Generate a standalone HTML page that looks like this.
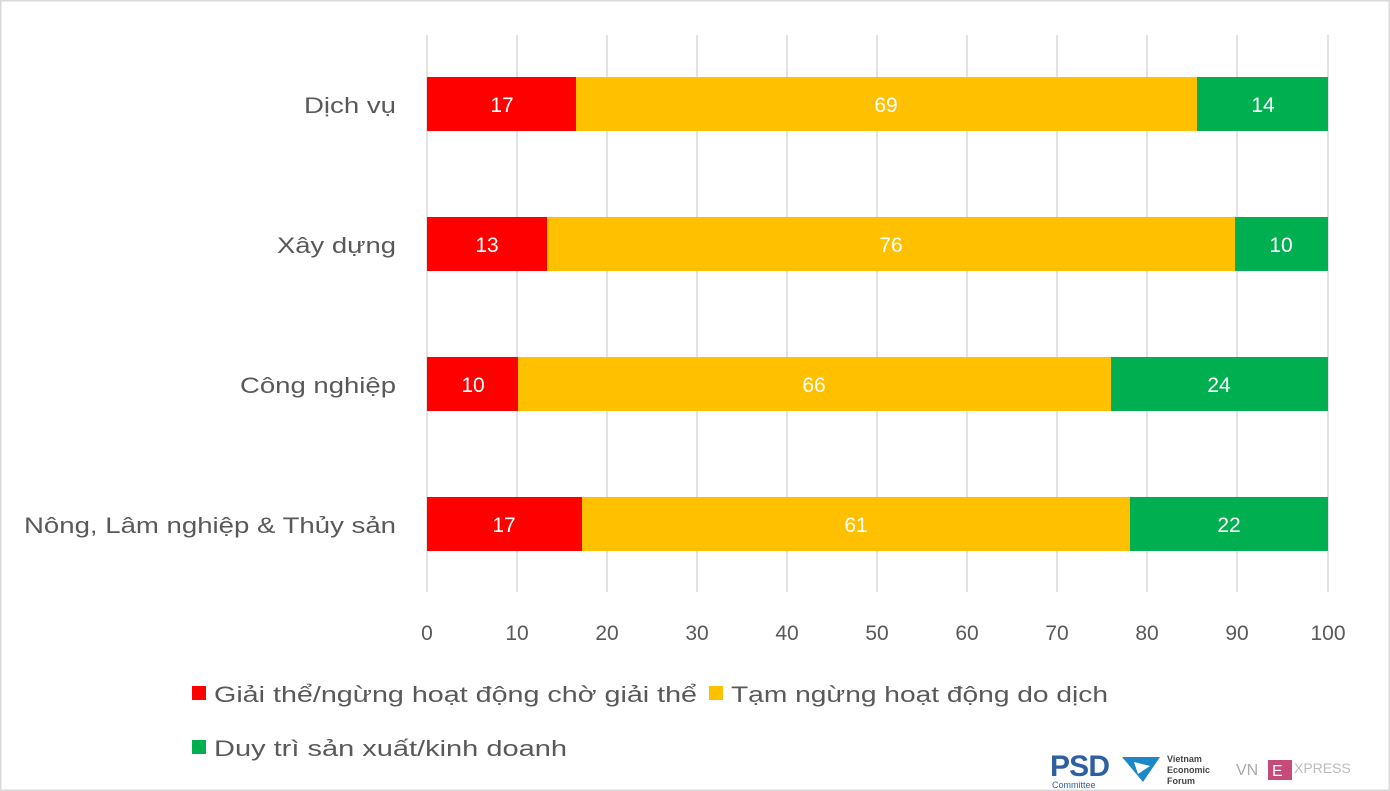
<!DOCTYPE html>
<html><head><meta charset="utf-8"><style>
body{margin:0;background:#fff}
svg{display:block}
text{font-family:"Liberation Sans",sans-serif}
</style></head><body>
<svg width="1390" height="791" viewBox="0 0 1390 791">
<rect x="0.5" y="0.5" width="1389" height="790" fill="#fff" stroke="#d9d9d9" stroke-width="2"/>
<g stroke="#d9d9d9" stroke-width="1.5">
<line x1="427" y1="35" x2="427" y2="592"/><line x1="517" y1="35" x2="517" y2="592"/><line x1="607" y1="35" x2="607" y2="592"/><line x1="697" y1="35" x2="697" y2="592"/><line x1="787" y1="35" x2="787" y2="592"/><line x1="877" y1="35" x2="877" y2="592"/><line x1="967" y1="35" x2="967" y2="592"/><line x1="1057" y1="35" x2="1057" y2="592"/><line x1="1147" y1="35" x2="1147" y2="592"/><line x1="1237" y1="35" x2="1237" y2="592"/><line x1="1328" y1="35" x2="1328" y2="592"/>
</g>
<g>
<rect x="427" y="77" width="149" height="54" fill="#ff0000"/><rect x="576" y="77" width="621" height="54" fill="#ffc000"/><rect x="1197" y="77" width="131" height="54" fill="#00b050"/>
<rect x="427" y="217" width="120" height="54" fill="#ff0000"/><rect x="547" y="217" width="688" height="54" fill="#ffc000"/><rect x="1235" y="217" width="93" height="54" fill="#00b050"/>
<rect x="427" y="357" width="91" height="54" fill="#ff0000"/><rect x="518" y="357" width="593" height="54" fill="#ffc000"/><rect x="1111" y="357" width="217" height="54" fill="#00b050"/>
<rect x="427" y="497" width="155" height="54" fill="#ff0000"/><rect x="582" y="497" width="548" height="54" fill="#ffc000"/><rect x="1130" y="497" width="198" height="54" fill="#00b050"/>
</g>
<g fill="#fff" font-size="21" text-anchor="middle">
<text x="502" y="112">17</text><text x="886" y="112">69</text><text x="1263" y="112">14</text>
<text x="487" y="252">13</text><text x="891" y="252">76</text><text x="1281" y="252">10</text>
<text x="473" y="392">10</text><text x="814" y="392">66</text><text x="1219" y="392">24</text>
<text x="504" y="532">17</text><text x="856" y="532">61</text><text x="1229" y="532">22</text>
</g>
<g fill="#595959" font-size="22">
<text x="304" y="113" textLength="92" lengthAdjust="spacingAndGlyphs">Dịch vụ</text>
<text x="277" y="253" textLength="119" lengthAdjust="spacingAndGlyphs">Xây dựng</text>
<text x="240" y="393" textLength="156" lengthAdjust="spacingAndGlyphs">Công nghiệp</text>
<text x="24" y="533" textLength="372" lengthAdjust="spacingAndGlyphs">Nông, Lâm nghiệp &amp; Thủy sản</text>
</g>
<g fill="#595959" font-size="21" text-anchor="middle">
<text x="427" y="640">0</text><text x="517" y="640">10</text><text x="607" y="640">20</text><text x="697" y="640">30</text><text x="787" y="640">40</text><text x="877" y="640">50</text><text x="967" y="640">60</text><text x="1057" y="640">70</text><text x="1147" y="640">80</text><text x="1237" y="640">90</text><text x="1328" y="640">100</text>
</g>
<g font-size="22" fill="#595959">
<rect x="192" y="686" width="14" height="14" fill="#ff0000"/><text x="214" y="702" textLength="483" lengthAdjust="spacingAndGlyphs">Giải thể/ngừng hoạt động chờ giải thể</text>
<rect x="709" y="686" width="14" height="14" fill="#ffc000"/><text x="731" y="702" textLength="377" lengthAdjust="spacingAndGlyphs">Tạm ngừng hoạt động do dịch</text>
<rect x="192" y="740" width="14" height="14" fill="#00b050"/><text x="214" y="756" textLength="353" lengthAdjust="spacingAndGlyphs">Duy trì sản xuất/kinh doanh</text>
</g>
<text x="1050" y="776" font-size="30" font-weight="bold" fill="#2e5fa3" textLength="60">PSD</text>
<text x="1052" y="788" font-size="9" fill="#2e5fa3">Committee</text>
<polygon points="1122,757 1160,757 1143,782" fill="#1d88c8"/>
<polygon points="1134,762 1150,766 1138,774" fill="#fff"/>
<text x="1167" y="762" font-size="9" font-weight="bold" fill="#444">Vietnam</text>
<text x="1167" y="773" font-size="9" font-weight="bold" fill="#444">Economic</text>
<text x="1167" y="784" font-size="9" font-weight="bold" fill="#444">Forum</text>
<text x="1236" y="775" font-size="16" fill="#aaa">VN</text>
<rect x="1268" y="760" width="24" height="20" fill="#c74b7a"/>
<text x="1272" y="776" font-size="16" fill="#fff">E</text>
<text x="1294" y="773" font-size="14" fill="#bbb">XPRESS</text>
</svg>
</body></html>
